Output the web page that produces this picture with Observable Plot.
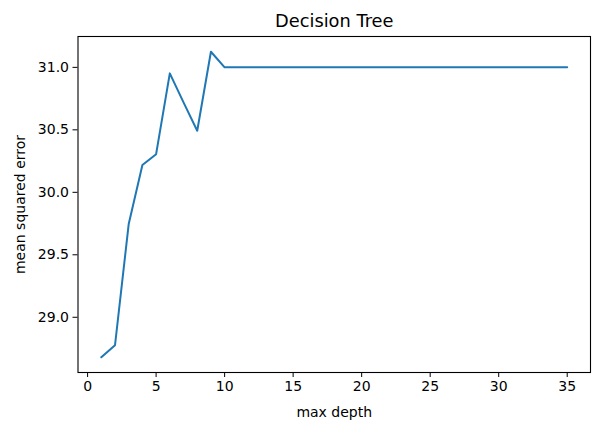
<!DOCTYPE html>
<html>
<head>
<meta charset="utf-8">
<script src="https://cdn.jsdelivr.net/npm/d3@7"></script>
<script src="https://cdn.jsdelivr.net/npm/@observablehq/plot@0.6"></script>
<style>
  body { margin: 0; background: #fff; }
  #chart { width: 592px; height: 426px; }
</style>
</head>
<body>
<div id="chart"></div>
<script>
const maxDepth = [1,2,3,4,5,6,7,8,9,10,11,12,13,14,15,16,17,18,19,20,21,22,23,24,25,26,27,28,29,30,31,32,33,34,35];
const mse = [28.68,28.776,29.746,30.218,30.305,30.952,30.72,30.493,31.125,31.0,31.0,31.0,31.0,31.0,31.0,31.0,31.0,31.0,31.0,31.0,31.0,31.0,31.0,31.0,31.0,31.0,31.0,31.0,31.0,31.0,31.0,31.0,31.0,31.0,31.0];
const xTicks = [0,5,10,15,20,25,30,35];
const yTicks = [29.0,29.5,30.0,30.5,31.0];
const title = "Decision Tree";
const xLabel = "max depth";
const yLabel = "mean squared error";

const data = maxDepth.map((d, i) => ({depth: d, mse: mse[i]}));

const chart = Plot.plot({
  width: 592,
  height: 426,
  marginLeft: 77.5,
  marginRight: 2,
  marginTop: 36,
  marginBottom: 54,
  style: {fontFamily: "DejaVu Sans", fontSize: "14px", color: "#000", background: "#fff"},
  x: {domain: [-0.7, 36.7]},
  y: {domain: [28.558, 31.247]},
  marks: [
    Plot.frame({stroke: "#000", strokeWidth: 1.1}),
    Plot.axisX({ticks: xTicks, tickSize: 5, tickPadding: 4, tickFormat: d3.format("d"), label: xLabel, labelAnchor: "center", labelArrow: "none", labelOffset: 44, fontSize: 14}),
    Plot.axisY({ticks: yTicks, tickSize: 5, tickPadding: 4, tickFormat: d3.format(".1f"), label: yLabel, labelAnchor: "center", labelArrow: "none", labelOffset: 63, fontSize: 14}),
    Plot.line(data, {x: "depth", y: "mse", stroke: "#1f77b4", strokeWidth: 2}),
    Plot.text([title], {frameAnchor: "top", lineAnchor: "middle", dy: -15.5, fontSize: 17.8, fill: "#000"})
  ]
});
document.getElementById("chart").appendChild(chart);
</script>
</body>
</html>
